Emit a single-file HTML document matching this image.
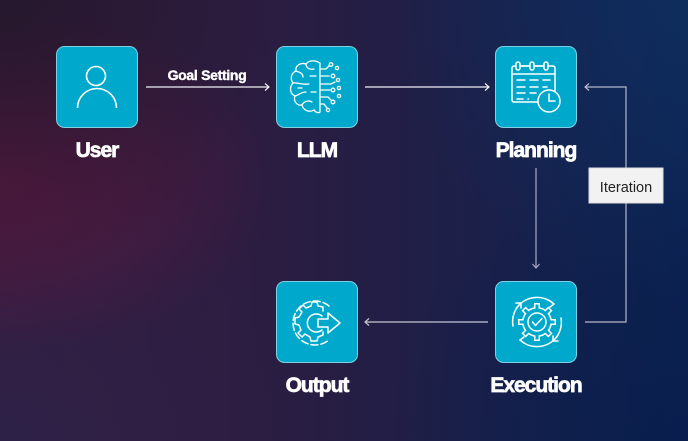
<!DOCTYPE html>
<html><head><meta charset="utf-8"><style>
html,body{margin:0;padding:0;width:688px;height:441px;overflow:hidden}
svg{display:block}
.lbl{font-family:"Liberation Sans",sans-serif;font-weight:bold;font-size:21px;fill:#fff;stroke:#fff;stroke-width:0.7;letter-spacing:-1px;text-anchor:middle}
</style></head><body>
<svg width="688" height="441" viewBox="0 0 688 441" xmlns="http://www.w3.org/2000/svg">
<defs>
<linearGradient id="bg" x1="0" y1="0" x2="1" y2="0">
<stop offset="0" stop-color="#3a1b3c"/><stop offset="0.45" stop-color="#281d42"/><stop offset="1" stop-color="#0c2352"/>
</linearGradient>
<radialGradient id="red" cx="0" cy="0" r="1" gradientUnits="userSpaceOnUse" gradientTransform="translate(0,180) scale(280,170)">
<stop offset="0" stop-color="#581840" stop-opacity="0.9"/><stop offset="1" stop-color="#581840" stop-opacity="0"/>
</radialGradient>
<radialGradient id="dk" cx="0" cy="0" r="280" gradientUnits="userSpaceOnUse">
<stop offset="0" stop-color="#1e1628" stop-opacity="0.75"/><stop offset="1" stop-color="#1e1628" stop-opacity="0"/>
</radialGradient>
<radialGradient id="tr" cx="688" cy="0" r="300" gradientUnits="userSpaceOnUse">
<stop offset="0" stop-color="#0f2f60" stop-opacity="0.8"/><stop offset="1" stop-color="#0f2f60" stop-opacity="0"/>
</radialGradient>
<radialGradient id="bl" cx="0" cy="441" r="320" gradientUnits="userSpaceOnUse">
<stop offset="0" stop-color="#2c2249" stop-opacity="0.9"/><stop offset="1" stop-color="#2c2249" stop-opacity="0"/>
</radialGradient>
<radialGradient id="br" cx="688" cy="441" r="300" gradientUnits="userSpaceOnUse">
<stop offset="0" stop-color="#081d4c" stop-opacity="0.8"/><stop offset="1" stop-color="#081d4c" stop-opacity="0"/>
</radialGradient>
</defs>
<rect width="688" height="441" fill="url(#bg)"/>
<rect width="688" height="441" fill="url(#bl)"/>
<rect width="688" height="441" fill="url(#red)"/>
<rect width="688" height="441" fill="url(#dk)"/>
<rect width="688" height="441" fill="url(#tr)"/>
<rect width="688" height="441" fill="url(#br)"/>

<!-- connectors -->
<g fill="none" stroke-width="1.2">
<path d="M146,87 H269" stroke="#f0f0f5"/>
<path d="M265,83.5 L269,87 L265,90.5" stroke="#f0f0f5"/>
<path d="M365,87 H489" stroke="#f0f0f5"/>
<path d="M485,83.5 L489,87 L485,90.5" stroke="#f0f0f5"/>
<path d="M536,168 V268" stroke="#a9abbf"/>
<path d="M532.5,264 L536,268 L539.5,264" stroke="#a9abbf"/>
<path d="M488,322 H365" stroke="#c4c6d6"/>
<path d="M369,318.5 L365,322 L369,325.5" stroke="#c4c6d6"/>
<path d="M585,322 H626 V87 H585" stroke="#b4b7c9"/>
<path d="M589,83.5 L585,87 L589,90.5" stroke="#b4b7c9"/>
</g>
<text x="207" y="80" font-family="Liberation Sans, sans-serif" font-weight="bold" font-size="14" fill="#fff" stroke="#fff" stroke-width="0.4" text-anchor="middle" letter-spacing="-0.3">Goal Setting</text>
<rect x="589" y="168" width="74" height="35" fill="#f2f2f2" stroke="#dcdcdc" stroke-width="1"/>
<text x="626" y="192" font-family="Liberation Sans, sans-serif" font-size="14.5" fill="#222" text-anchor="middle">Iteration</text>

<!-- boxes -->
<g fill="#00a9cc" stroke="#7fd0e2" stroke-width="1">
<rect x="56.5" y="46.5" width="81" height="81" rx="8"/>
<rect x="276.5" y="46.5" width="81" height="81" rx="8"/>
<rect x="495.5" y="46.5" width="81" height="81" rx="8"/>
<rect x="276.5" y="281.5" width="81" height="81" rx="8"/>
<rect x="495.5" y="281.5" width="81" height="81" rx="8"/>
</g>

<!-- User icon -->
<g fill="none" stroke="#fff" stroke-width="1.6">
<circle cx="96" cy="76" r="9.5"/>
<path d="M77.5,108 A19.5,19.5 0 0 1 116.5,108"/>
</g>

<!-- LLM brain icon -->
<g fill="none" stroke="#fff" stroke-width="1.3" stroke-linecap="round">
<path d="M320,63 C315,60 309,60 306,64 C300,62 295,66 296,71 C291,73 290,79 293,83 C289,87 290,94 295,96 C293,101 297,106 302,105 C303,110 309,113 314,110 C316,113 319,113 320,112 V63"/>
<path d="M306,64 C306,68 310,70 314,69"/>
<path d="M296,71 C299,72 303,73 303,77"/>
<path d="M293,83 C297,82 301,85 309,84"/>
<path d="M310,76 H316"/>
<path d="M295,96 C299,95 301,92 306,92"/>
<path d="M302,105 C304,101 309,100 312,102"/>
<path d="M311,92 H316"/>
<path d="M298,88 H302"/>
<path d="M320,69 H326 L329,66"/>
<circle cx="331" cy="64.5" r="1.8"/>
<path d="M320,76 H329"/>
<circle cx="333" cy="76" r="1.8"/>
<circle cx="337" cy="68" r="1.6"/>
<path d="M320,84 H331 L335,82"/>
<circle cx="338" cy="80" r="1.6"/>
<path d="M320,90 H330"/>
<circle cx="333" cy="90" r="1.8"/>
<circle cx="339" cy="88" r="1.6"/>
<path d="M320,97 H328 L331,100"/>
<circle cx="333" cy="102" r="1.8"/>
<circle cx="339" cy="96" r="1.6"/>
<path d="M320,104 H324 L327,108"/>
<circle cx="328" cy="110" r="1.6"/>
</g>

<!-- Planning calendar icon -->
<g fill="none" stroke="#fff" stroke-width="1.5" stroke-linecap="round">
<rect x="512" y="66" width="43" height="36" rx="2"/>
<path d="M512,74 H555"/>
<path d="M518,66 H546"/>
<g fill="#00a9cc"><rect x="516" y="62" width="4" height="8" rx="2"/><rect x="530" y="62" width="4" height="8" rx="2"/><rect x="544" y="62" width="4" height="8" rx="2"/></g>
<path d="M517,80 H525 M530,80 H538 M543,80 H550"/>
<path d="M517,87 H525 M530,87 H538 M543,87 H547"/>
<path d="M517,93 H525 M530,93 H536"/>
<path d="M517,99 H523 M528,99 H528.5"/>
<circle cx="549" cy="101" r="11" fill="#00a9cc"/>
<path d="M549,94 V101 H555"/>
</g>

<!-- Execution icon -->
<g transform="translate(537,322)">
<g fill="#fff">
<circle r="15"/>
<g id="t1"><rect x="-3" y="-19" width="6" height="8"/></g>
<use href="#t1" transform="rotate(45)"/><use href="#t1" transform="rotate(90)"/><use href="#t1" transform="rotate(135)"/>
<use href="#t1" transform="rotate(180)"/><use href="#t1" transform="rotate(225)"/><use href="#t1" transform="rotate(270)"/><use href="#t1" transform="rotate(315)"/>
</g>
<g fill="#00a9cc">
<circle r="13.5"/>
<g id="t2"><rect x="-1.5" y="-17.5" width="3" height="6"/></g>
<use href="#t2" transform="rotate(45)"/><use href="#t2" transform="rotate(90)"/><use href="#t2" transform="rotate(135)"/>
<use href="#t2" transform="rotate(180)"/><use href="#t2" transform="rotate(225)"/><use href="#t2" transform="rotate(270)"/><use href="#t2" transform="rotate(315)"/>
</g>
<g fill="none" stroke="#fff" stroke-width="1.5" stroke-linecap="round" stroke-linejoin="round">
<circle r="9"/>
<path d="M-4.5,0 L-1.5,3.5 L5,-3.5"/>
<path d="M-21,-13 A25,25 0 0 1 17,-18"/>
<path d="M13,-21 L17,-18 L13,-15"/>
<path d="M24,-4 A25,25 0 0 1 16,19"/>
<path d="M16,14 L16,19 L21,19"/>
<path d="M21,13 A25,25 0 0 1 -17,18"/>
<path d="M-13,21 L-17,18 L-13,15"/>
<path d="M-24,4 A25,25 0 0 1 -16,-19"/>
<path d="M-16,-14 L-16,-19 L-21,-19"/>
</g>
</g>

<!-- Output icon -->
<g transform="translate(315,323)">
<g fill="none" stroke="#fff" stroke-width="1.5" stroke-linecap="round" stroke-linejoin="round">
<path d="M14,-17 A22,22 0 1 0 14,17" stroke-dasharray="7 3"/>
<path d="M8,-12 L8,-16 L3,-17 L2,-21 L-3,-21 L-4,-17 L-9,-15 L-12,-18 L-16,-14 L-13,-11 L-16,-6 L-20,-5 L-20,1 L-16,2 L-14,7 L-17,10 L-13,14 L-10,11 L-5,14 L-4,18 L2,18 L3,14 L8,12 L8,9"/>
<path d="M7,-7 A9,9 0 1 0 7,7"/>
<path d="M3,-4 H13 V-10 L25,0 L13,10 V4 H3 Z"/>
</g>
</g>

<!-- labels -->
<text class="lbl" x="97" y="157">User</text>
<text class="lbl" x="317" y="157">LLM</text>
<text class="lbl" x="536" y="157">Planning</text>
<text class="lbl" x="317" y="392">Output</text>
<text class="lbl" x="536" y="392">Execution</text>
</svg>
</body></html>
